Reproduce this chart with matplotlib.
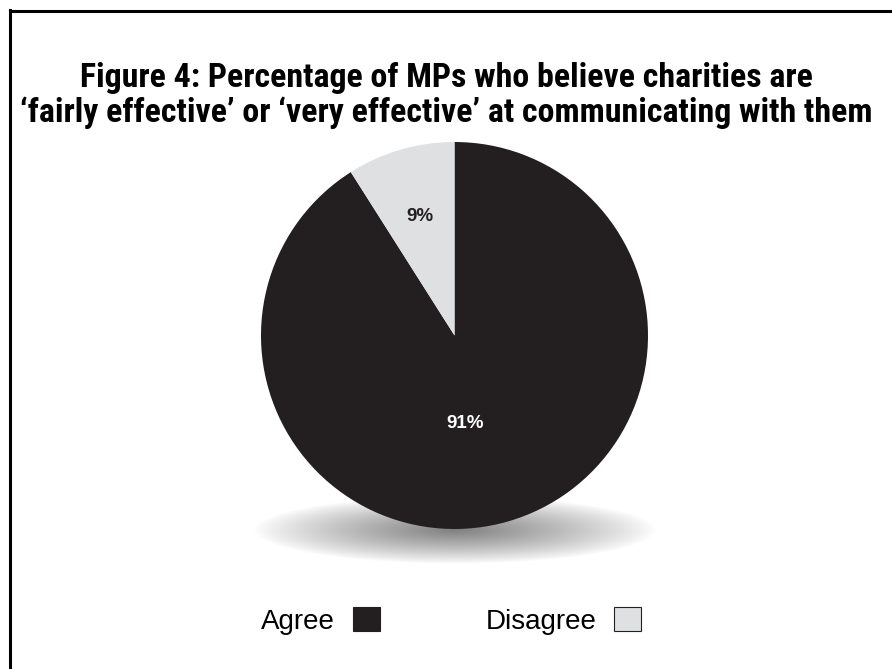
import numpy as np
import matplotlib.pyplot as plt
from matplotlib import font_manager
from matplotlib.patches import Patch
from matplotlib.lines import Line2D

labels = ["Agree", "Disagree"]
values = [91, 9]
colors = ["#231f20", "#dfe0e2"]
pct_colors = ["white", "#231f20"]

title = ("Figure 4: Percentage of MPs who believe charities are\n"
         "\u2018fairly effective\u2019 or \u2018very effective\u2019 at communicating with them")

W, H = 892, 669
fig = plt.figure(figsize=(W / 100, H / 100), dpi=100)
ax = fig.add_axes([0, 0, 1, 1])

# pixel-like coordinates, y measured upward from the bottom edge
cx, cy, r = 454.5, H - 335.5, 193.5

# soft elliptical shadow under the pie
sx, sy, sa, sb = 455, H - 530, 202, 34
xs = np.linspace(sx - sa, sx + sa, 400)
ys = np.linspace(sy - sb, sy + sb, 120)
X, Y = np.meshgrid(xs, ys)
d = np.sqrt(((X - sx) / sa) ** 2 + ((Y - sy) / sb) ** 2)
alpha = np.clip(1 - d, 0, 1) ** 0.85 * 0.5
shadow = np.zeros(X.shape + (4,))
shadow[..., 3] = alpha
ax.imshow(shadow, extent=(sx - sa, sx + sa, sy - sb, sy + sb), zorder=1,
          interpolation="bilinear")

wedges, texts, autotexts = ax.pie(
    values, colors=colors, startangle=90, counterclock=False,
    center=(cx, cy), radius=r, autopct="%d%%", pctdistance=0.64,
    wedgeprops=dict(linewidth=0), frame=True,
    textprops=dict(fontsize=13.5, fontweight="bold", family="Liberation Sans"))
for w in wedges:
    w.set_zorder(2)
for t, c in zip(autotexts, pct_colors):
    t.set_color(c)
    t.set_zorder(3)
# the large slice's label sits lower than its wedge centre
autotexts[0].set_position((cx + 10.5, cy - 87.5))
ax.set_xlim(0, W)
ax.set_ylim(0, H)
ax.set_aspect("equal")
ax.axis("off")

# condensed bold face for the heading, if one is installed
names = {f.name for f in font_manager.fontManager.ttflist}
title_font = "Liberation Sans"
for cand in ["Liberation Sans Narrow", "DejaVu Sans Condensed", "Roboto Condensed",
             "Open Sans Condensed"]:
    if cand in names:
        title_font = cand
        break
ttl = fig.text(0.5, 1 - 95.5 / H, title, ha="center", va="center", fontsize=21,
               fontweight="bold", family=title_font, fontstretch="condensed",
               linespacing=1.1)
# size the heading so its longer line spans about 852 px
fig.canvas.draw()
wpx = ttl.get_window_extent().width
ttl.set_fontsize(21 * 852 / wpx)

handles = [Patch(facecolor=c, edgecolor="#231f20", linewidth=0.8) for c in colors]
fig.legend(handles, labels, loc="center", bbox_to_anchor=(451 / W, 1 - 621 / H),
           ncol=2, frameon=False, markerfirst=False,
           prop=dict(family="Liberation Sans", size=20),
           handlelength=0.95, handleheight=0.95, handletextpad=0.65,
           columnspacing=3.8)

# frame lines along the top and left edges
fig.add_artist(Line2D([9.5 / W, 9.5 / W], [0, 1 - 10 / H], color="black", lw=2.2,
                      transform=fig.transFigure))
fig.add_artist(Line2D([9.5 / W, 1], [1 - 10.5 / H, 1 - 10.5 / H], color="black", lw=2.2,
                      transform=fig.transFigure))

fig.savefig("out.png", dpi=100)
